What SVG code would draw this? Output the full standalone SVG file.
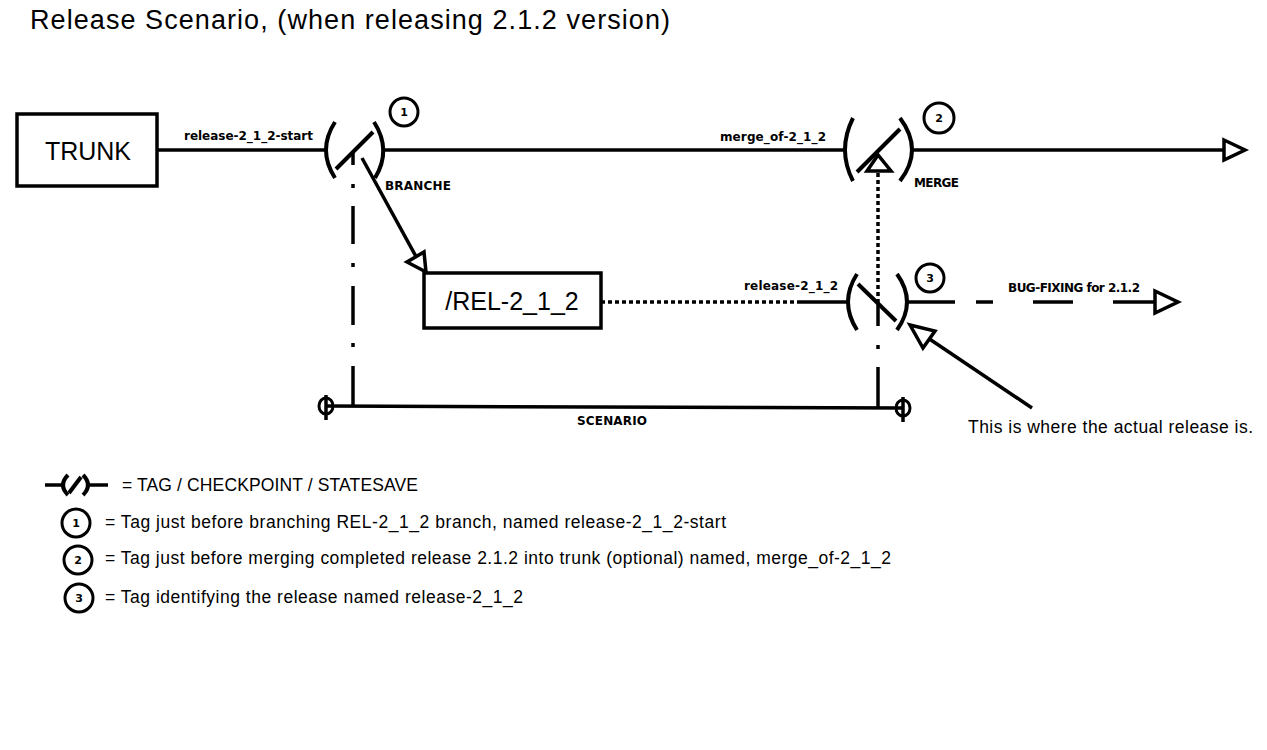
<svg xmlns="http://www.w3.org/2000/svg" width="1267" height="750" viewBox="0 0 1267 750">
<style>
.ln{stroke:#000;stroke-width:3.5;fill:none}
.pa{stroke:#000;stroke-width:4;fill:none;stroke-linecap:butt}
.mk{stroke:#000;stroke-width:3;fill:none}
.box{stroke:#000;stroke-width:3.5;fill:#fff}
.ah{stroke:#000;stroke-width:3.5;fill:#fff;stroke-linejoin:miter}
.dot{stroke:#000;stroke-width:3.5;fill:none;stroke-dasharray:4 3}
.cir{stroke:#000;stroke-width:3;fill:#fff}
.sm{font-family:"DejaVu Sans",sans-serif;font-weight:bold;font-size:12px;fill:#000}
.num{font-family:"DejaVu Sans",sans-serif;font-weight:bold;font-size:11px;fill:#000;text-anchor:middle}
.big{font-family:"Liberation Sans",Arial,sans-serif;font-size:25px;fill:#000}
.ttl{font-family:"Liberation Sans",Arial,sans-serif;font-size:27px;fill:#000}
.leg{font-family:"Liberation Sans",Arial,sans-serif;font-size:17.5px;fill:#000}
</style>
<rect width="1267" height="750" fill="#fff"/>
<text id="title" class="ttl" x="30" y="29" textLength="640">Release Scenario, (when releasing 2.1.2 version)</text>

<g id="connectors">
  <line class="ln" x1="157" y1="150" x2="326" y2="150"/>
  <line class="ln" x1="383" y1="150" x2="846" y2="150"/>
  <line class="ln" x1="911" y1="150" x2="1224" y2="150"/>
  <polygon class="ah" points="1224,140 1245,150 1224,160"/>
  <line class="ln" x1="362" y1="158" x2="419" y2="262"/>
  <polygon class="ah" points="407,262 426,272 424,252"/>
  <line class="dot" x1="601" y1="302" x2="800" y2="302"/>
  <line class="ln" x1="800" y1="302" x2="849" y2="302"/>
  <line class="ln" x1="906" y1="302" x2="955" y2="302"/>
  <line class="ln" x1="976" y1="302" x2="993" y2="302"/>
  <line class="ln" x1="1033" y1="302" x2="1073" y2="302"/>
  <line class="ln" x1="1113" y1="302" x2="1155" y2="302"/>
  <polygon class="ah" points="1155,291 1178,302 1155,313"/>
  <line class="ln" x1="353" y1="152" x2="353" y2="165"/>
  <line class="ln" x1="353" y1="184" x2="353" y2="188"/>
  <line class="ln" x1="353" y1="206" x2="353" y2="244"/>
  <line class="ln" x1="353" y1="263" x2="353" y2="267"/>
  <line class="ln" x1="353" y1="286" x2="353" y2="325"/>
  <line class="ln" x1="353" y1="343" x2="353" y2="347"/>
  <line class="ln" x1="353" y1="366" x2="353" y2="407"/>
  <line class="dot" x1="878" y1="173" x2="878" y2="300"/>
  <line class="ln" x1="878" y1="300" x2="878" y2="326"/>
  <line class="ln" x1="878" y1="345" x2="878" y2="349"/>
  <line class="ln" x1="878" y1="367" x2="878" y2="407"/>
  <polygon class="ah" points="878,155 867,171 891,171"/>
  <line class="ln" x1="928" y1="338" x2="1032" y2="408"/>
  <polygon class="ah" points="910,325 935,331 923,348"/>
</g>

<g id="trunk">
  <rect class="box" x="17" y="114" width="140" height="72"/>
  <text class="big" x="88" y="160" text-anchor="middle">TRUNK</text>
</g>
<text id="lbl-start" class="sm" x="184" y="140" textLength="129">release-2_1_2-start</text>
<text id="lbl-merge" class="sm" x="720" y="141" textLength="106">merge_of-2_1_2</text>

<g id="tag1">
  <path class="pa" d="M335,122 Q317,150 335,178"/>
  <path class="pa" d="M374,122 Q392,150 375,178"/>
  <line class="pa" x1="336" y1="169" x2="373" y2="132"/>
  <circle class="cir" cx="404" cy="112" r="14"/>
  <text class="num" x="404" y="116">1</text>
  <text class="sm" x="385" y="190" textLength="66">BRANCHE</text>
</g>

<g id="tag2">
  <path class="pa" d="M853,118 Q837,150 853,181"/>
  <path class="pa" d="M900,118 Q924,150 900,181"/>
  <line class="pa" x1="857" y1="172" x2="900" y2="129"/>
  <circle class="cir" cx="939" cy="118" r="15"/>
  <text class="num" x="939" y="122">2</text>
  <text class="sm" x="914" y="187" textLength="45">MERGE</text>
</g>

<g id="rel-box">
  <rect class="box" x="424" y="273" width="177" height="55"/>
  <text class="big" x="512" y="310" text-anchor="middle">/REL-2_1_2</text>
</g>

<g id="tag3">
  <path class="pa" d="M857,274 Q839,302 857,330"/>
  <path class="pa" d="M897,274 Q917,302 897,330"/>
  <line class="pa" x1="858" y1="284" x2="896" y2="321"/>
  <circle class="cir" cx="930" cy="278" r="14"/>
  <text class="num" x="930" y="282">3</text>
  <text class="sm" x="744" y="290" textLength="94">release-2_1_2</text>
</g>
<text id="lbl-bug" class="sm" x="1008" y="292" textLength="132">BUG-FIXING for 2.1.2</text>

<g id="scenario">
  <line class="ln" x1="326" y1="406" x2="903" y2="408"/>
  <ellipse class="mk" cx="326" cy="406" rx="7" ry="8"/>
  <line class="ln" x1="326" y1="395" x2="326" y2="420"/>
  <ellipse class="mk" cx="903" cy="408" rx="7" ry="8"/>
  <line class="ln" x1="903" y1="397" x2="903" y2="422"/>
  <text class="sm" x="577" y="425" textLength="70">SCENARIO</text>
</g>

<text id="note" class="leg" x="968" y="433" textLength="285">This is where the actual release is.</text>

<g id="legend">
  <line class="ln" x1="45" y1="485" x2="62" y2="485"/>
  <line class="ln" x1="88" y1="485" x2="108" y2="485"/>
  <path class="pa" d="M68,475 Q58,485 68,495"/>
  <path class="pa" d="M83,475 Q93,485 83,495"/>
  <line class="pa" x1="69" y1="493" x2="81" y2="477"/>
  <text class="leg" x="122" y="491" textLength="296">= TAG / CHECKPOINT / STATESAVE</text>
  <circle class="cir" cx="76" cy="523" r="14"/>
  <text class="num" x="76" y="527">1</text>
  <text class="leg" x="105" y="528" textLength="621">= Tag just before branching REL-2_1_2 branch, named release-2_1_2-start</text>
  <circle class="cir" cx="78" cy="560" r="14"/>
  <text class="num" x="78" y="564">2</text>
  <text class="leg" x="105" y="564" textLength="786">= Tag just before merging completed release 2.1.2 into trunk (optional) named, merge_of-2_1_2</text>
  <circle class="cir" cx="79" cy="598" r="14"/>
  <text class="num" x="79" y="602">3</text>
  <text class="leg" x="105" y="603" textLength="418">= Tag identifying the release named release-2_1_2</text>
</g>
</svg>
